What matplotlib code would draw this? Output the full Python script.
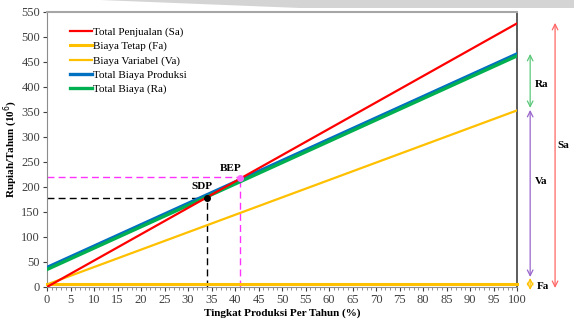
import matplotlib.pyplot as plt
from matplotlib.patches import Polygon

# Data (Rupiah/Tahun, 10^6) vs tingkat produksi (%)
produksi = [0, 100]
penjualan = [0, 527]          # Total Penjualan (Sa)
biaya_tetap = [5, 5]          # Biaya Tetap (Fa)
biaya_variabel = [5, 353]     # Biaya Variabel (Va)
biaya_produksi = [39, 466]    # Total Biaya Produksi
biaya_total = [35, 462]       # Total Biaya (Ra)

bep = (41, 219)
sdp = (34, 178)

x_ticks = list(range(0, 101, 5))
y_ticks = list(range(0, 551, 50))

plt.rcParams['font.family'] = ['Liberation Serif', 'DejaVu Serif']

fig = plt.figure(figsize=(5.74, 3.21), dpi=100)
ax = fig.add_axes([0.0819, 0.106, 0.8188, 0.857])

# banda gris decorativa arriba
fig.patches.append(Polygon([[100/574, 1.0], [300/574, 1 - 8/321], [1.0, 1 - 8/321], [1.0, 1.0]],
                           closed=True, transform=fig.transFigure, facecolor='#d4d4d4',
                           edgecolor='none', zorder=0))

ax.plot(produksi, penjualan, color='#ff0000', lw=1.6, label='Total Penjualan (Sa)', zorder=4)
ax.plot(produksi, biaya_tetap, color='#ffc000', lw=2.2, label='Biaya Tetap (Fa)', zorder=3, clip_on=False)
ax.plot(produksi, biaya_variabel, color='#ffc000', lw=1.6, label='Biaya Variabel (Va)', zorder=3)
ax.plot(produksi, biaya_produksi, color='#0070c0', lw=2.4, label='Total Biaya Produksi', zorder=3)
ax.plot(produksi, biaya_total, color='#00b050', lw=2.4, label='Total Biaya (Ra)', zorder=3)

# garis bantu SDP dan BEP
ax.plot([0, sdp[0]], [sdp[1], sdp[1]], color='black', lw=1, ls=(0, (5, 3)), zorder=2)
ax.plot([sdp[0], sdp[0]], [0, sdp[1]], color='black', lw=1, ls=(0, (5, 3)), zorder=2)
ax.plot([0, bep[0]], [bep[1], bep[1]], color='#ff33ff', lw=1, ls=(0, (5, 3)), zorder=2)
ax.plot([bep[0], bep[0]], [0, bep[1]], color='#ff33ff', lw=1, ls=(0, (5, 3)), zorder=2)
ax.plot(*sdp, 'o', color='black', ms=4, zorder=5)
ax.plot(bep[0], bep[1] - 2, 'o', color='#ff66ff', ms=4, zorder=5)
ax.text(33, 200, 'SDP', fontsize=8, fontweight='bold', ha='center', va='center')
ax.text(39, 236, 'BEP', fontsize=8, fontweight='bold', ha='center', va='center')

# flechas fuera del gráfico
def flecha(x, y1, y2, color):
    ax.annotate('', xy=(x, y2), xytext=(x, y1), annotation_clip=False,
                arrowprops=dict(arrowstyle='<->', color=color, lw=0.9, shrinkA=0, shrinkB=0))

flecha(102.8, 466, 358, '#5cc87a')
flecha(102.8, 354, 20, '#9966cc')
flecha(102.8, 18, -6, '#ffc000')
flecha(108.1, 528, -2, '#ff6666')
ax.text(103.8, 404, 'Ra', fontsize=8, fontweight='bold', va='center', clip_on=False)
ax.text(103.8, 210, 'Va', fontsize=8, fontweight='bold', va='center', clip_on=False)
ax.text(104.2, 0, 'Fa', fontsize=8, fontweight='bold', va='center', clip_on=False)
ax.text(108.6, 282, 'Sa', fontsize=8, fontweight='bold', va='center', clip_on=False)

ax.set_xlim(0, 100)
ax.set_ylim(0, 550)
ax.set_xticks(x_ticks)
ax.set_xticks(range(0, 101), minor=True)
ax.set_yticks(y_ticks)
ax.tick_params(labelsize=9, colors='#404040', length=3, width=0.8, pad=2)
ax.tick_params(axis='x', which='minor', length=2, width=0.6, color='#808080')
ax.set_xlabel('Tingkat Produksi Per Tahun (%)', fontsize=8, fontweight='bold', labelpad=2)
ax.set_ylabel('Rupiah/Tahun (10$^6$)', fontsize=8, fontweight='bold')
ax.yaxis.set_label_coords(-0.058, 0.5)

ax.spines['left'].set_color('#8c8c8c')
ax.spines['top'].set_color('#a6a6a6')
ax.spines['top'].set_linewidth(1.5)
ax.spines['right'].set_color('#404040')
ax.spines['right'].set_linewidth(1.2)
ax.spines['bottom'].set_color('#8c8c8c')

ax.legend(loc='upper left', bbox_to_anchor=(0.035, 0.97), frameon=False, fontsize=8,
          handlelength=2.0, handletextpad=0.1, labelspacing=0.4, borderaxespad=0.2)

plt.savefig('out.png', dpi=100)
